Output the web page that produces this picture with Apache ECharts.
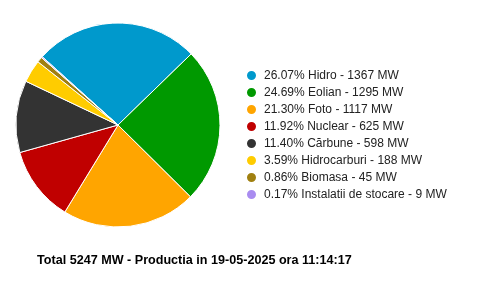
<!DOCTYPE html>
<html><head><meta charset="utf-8">
<script src="https://cdn.jsdelivr.net/npm/echarts@6/dist/echarts.min.js"></script>
<style>html,body{margin:0;padding:0;background:#fff}#c{width:480px;height:286px}</style>
</head><body><div id="c"></div>
<script>
const categories = ["Hidro","Eolian","Foto","Nuclear","Cărbune","Hidrocarburi","Biomasa","Instalatii de stocare"];
const values = [1367,1295,1117,625,598,188,45,9];
const percents = ["26.07","24.69","21.30","11.92","11.40","3.59","0.86","0.17"];
const colors = ["#0099cc","#009900","#ffa500","#c00000","#333333","#ffcc00","#a08010","#a98cf0"];
const titleText = "Total 5247 MW - Productia in 19-05-2025 ora 11:14:17";

const chart = echarts.init(document.getElementById('c'), null, {renderer:'canvas'});
const labelMap = {};
categories.forEach((c,i)=>{ labelMap[c] = percents[i] + "% " + c + " - " + values[i] + " MW"; });
chart.setOption({
  animation:false,
  title:{text:titleText,left:32,top:249,textStyle:{fontFamily:'Liberation Sans, Arial',fontSize:12.6,fontWeight:'bold',color:'#000'}},
  legend:{orient:'vertical',left:240,top:64,icon:'circle',itemWidth:11,itemHeight:11,itemGap:4,
    textStyle:{fontFamily:'Liberation Sans, Arial',fontSize:12,color:'#222',padding:[0,0,0,2]},
    formatter:n=>labelMap[n], data:categories},
  series:[{type:'pie',center:[118,125],radius:[0,102],startAngle:138,clockwise:true,
    label:{show:false},labelLine:{show:false},
    itemStyle:{borderColor:'#fff',borderWidth:1},
    data:categories.map((c,i)=>({name:c,value:values[i],itemStyle:{color:colors[i]}}))}]
});
</script></body></html>
